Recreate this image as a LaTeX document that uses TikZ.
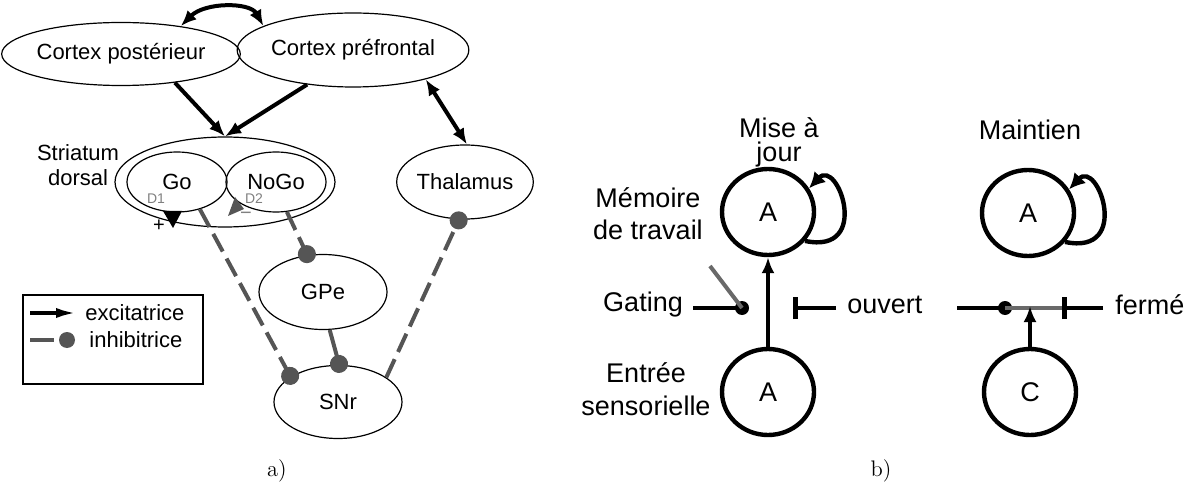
\documentclass[tikz,border=0pt]{standalone}
\usepackage{fontspec}
\newfontfamily\arial{Liberation Sans}
\usetikzlibrary{arrows.meta,shapes.geometric,positioning}
\definecolor{inhgray}{RGB}{85,85,85}
\definecolor{gategray}{RGB}{105,105,105}

\begin{document}
\begin{tikzpicture}[x=0.5pt, y=-0.5pt,
  area/.style={ellipse, draw, line width=0.6pt, inner sep=0pt,
    font=\arial\fontsize{11}{12.5}\selectfont},
  exc/.style={-{Latex[length=8pt,width=6.5pt]}, line width=2pt},
  excboth/.style={{Latex[length=8pt,width=6.5pt]}-{Latex[length=8pt,width=6.5pt]}, line width=2pt},
  inh/.style={-{Circle[length=9pt,fill=inhgray]}, draw=inhgray, line width=2pt,
    dash pattern=on 10pt off 4pt, shorten >=-4pt},
  small/.style={font=\arial\fontsize{11}{12.5}\selectfont, inner sep=1pt},
  dlbl/.style={font=\arial\fontsize{7}{8}\selectfont, text=gray, inner sep=0pt},
  unit/.style={ellipse, draw, line width=2.2pt, minimum width=46pt, minimum height=43pt,
    inner sep=0pt, font=\arial\fontsize{13.5}{16}\selectfont},
  lbl/.style={font=\arial\fontsize{13.5}{16}\selectfont, align=center, inner sep=2pt},
  wire/.style={line width=2.3pt},
  gdot/.style={circle, fill=black, inner sep=0pt, minimum size=7pt},
  loopline/.style={-{Latex[length=8pt,width=8pt]}, line width=2.2pt}
]
\useasboundingbox (0,0) rectangle (1188,486);

% a) cortico-striatal loop
\node[area, minimum width=112pt, minimum height=31.5pt] (post) at (121,54) {Cortex postérieur};
\node[area, minimum width=108.5pt, minimum height=37pt] (pref) at (353,50) {Cortex préfrontal};
\node[area, minimum width=110pt, minimum height=45pt] (striatum) at (225,182) {};
\node[area, minimum width=50pt, minimum height=30pt] (go) at (177,182) {Go};
\node[area, minimum width=50pt, minimum height=30pt] (nogo) at (276,182) {NoGo};
\node[small, align=center] (strlbl) at (78,165) {Striatum\\dorsal};
\node[area, minimum width=63pt, minimum height=37pt] (thal) at (465,182) {Thalamus};
\node[area, minimum width=64pt, minimum height=37.5pt] (gpe) at (323,292) {GPe};
\node[area, minimum width=64pt, minimum height=36.5pt] (snr) at (338,402) {SNr};

\draw[excboth] (post.25) .. controls (205,2) and (250,2) .. (pref.165);
\draw[exc] (post.-28) -- (striatum.north);
\draw[exc] (pref.-143) -- (striatum.north);
\draw[excboth] (pref.-22) -- (thal.87);

\draw[inh] (go.-50) -- (snr.152);
\draw[inh] (nogo.-70) -- (gpe.113);
\draw[inh, solid] (gpe.-80) -- (snr.88);
\draw[inh] (snr.27) -- (thal.-99);

% dopamine
\fill (163,211) -- (182,211) -- (173,228) -- cycle;
\fill[inhgray] (235,197) -- (244,209) -- (228,216) -- cycle;
\node[dlbl] (d1) at (156,199) {D1};
\node[dlbl] (d2) at (254,199) {D2};
\node[font=\arial\fontsize{10}{11}\selectfont, inner sep=0pt] (plus) at (159,226) {+};
\node[font=\arial\fontsize{10}{11}\selectfont, text=gray, inner sep=0pt] (minus) at (246,216) {−};

% legend
\node[draw, line width=1pt, minimum width=90pt, minimum height=44.5pt, inner sep=0pt] (legend) at (113,339.5) {};
\node[small, anchor=west, inner sep=3.5pt] (lexc) at (78,313) {excitatrice};
\node[small, anchor=west, inner sep=0pt] (linh) at (89,340) {inhibitrice};
\coordinate (lexcstart) at (30,313);
\coordinate (linhstart) at (30,340);
\node[circle, fill=inhgray, inner sep=0pt, minimum size=8pt] (ldot) at (67,340) {};
\draw[-{Latex[length=11pt,width=5pt]}, line width=2pt] (lexcstart) -- (lexc.west);
\draw[draw=inhgray, line width=2pt, shorten >=2.5pt] (linhstart) -- (ldot.west);

\node[font=\fontsize{11.25}{13}\selectfont] (capa) at (277,471) {a)};

% b) gating
\node[lbl, font=\arial\fontsize{13.5}{12}\selectfont] (update) at (779,142) {Mise à\\jour};
\node[unit] (memA) at (768,212) {A};
\node[lbl] (memlbl) at (648,214) {Mémoire\\de travail};
\node[unit] (inA) at (768,392) {A};
\node[lbl, font=\arial\fontsize{13.5}{16.5}\selectfont] (inlbl) at (646,389) {Entrée\\sensorielle};
\draw[exc] (inA.north) -- (memA.south);
\draw[loopline] (memA.-38) .. controls (872,255) and (838,158) .. (memA.30);

\node[lbl] (gating) at (643,305) {Gating};
\node[gdot] (gdotA) at (742,308) {};
\coordinate (gatetop) at (710,266);
\draw[wire, shorten <=3pt] (gating.east |- gdotA) -- (gdotA.center);
\draw[wire, gategray, line width=2pt] (gatetop) -- (gdotA.center);
\node[lbl, anchor=west] (open) at (843,305) {ouvert};
\coordinate (openbar) at (793,308);
\draw[wire, -{Bar[width=11pt]}, shorten <=3.5pt] (open.west |- openbar) -- (openbar);

\node[lbl] (keep) at (1030,130) {Maintien};
\node[unit] (memB) at (1028,213) {A};
\node[unit] (inC) at (1030,392) {C};
\draw[loopline] (memB.-38) .. controls (1132,256) and (1098,159) .. (memB.30);

\coordinate (fstart) at (957,308);
\node[gdot] (gdotB) at (1005,308) {};
\coordinate (fbar) at (1062,308);
\node[lbl, anchor=west] (closed) at (1111,305) {fermé};
\draw[wire] (fstart) -- (gdotB.center);
\draw[gategray, line width=1.6pt] (gdotB.center) -- (fbar);
\draw[wire, -{Bar[width=11pt]}, shorten <=4pt] (closed.west |- fbar) -- (fbar);
\draw[exc, shorten >=-1pt] (inC.north) -- (inC.north |- fbar);

\node[font=\fontsize{11.25}{13}\selectfont] (capb) at (881,471) {b)};
\end{tikzpicture}
\end{document}
